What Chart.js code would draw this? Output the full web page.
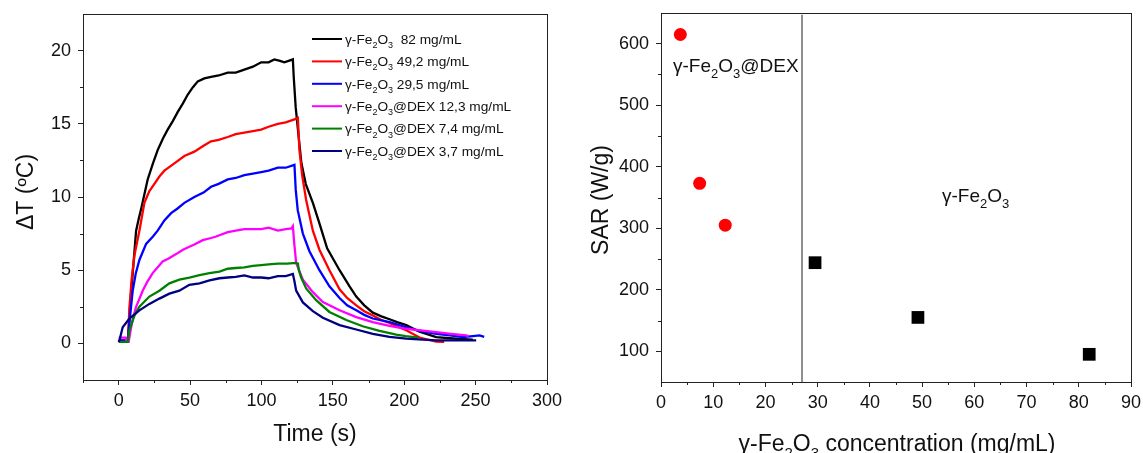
<!DOCTYPE html>
<html>
<head>
<meta charset="utf-8">
<script src="https://cdn.jsdelivr.net/npm/chart.js@4.4.1/dist/chart.umd.min.js"></script>
<style>
    body { margin: 0; background: #fff; }
    #wrap { position: relative; width: 1143px; height: 453px; }
    .panel { position: absolute; top: 0; height: 453px; }
    #left { left: 0; width: 575px; }
    #right { left: 575px; width: 568px; }
</style>
</head>
<body>
<div id="wrap">
    <div class="panel" id="left"><canvas id="heat" width="575" height="453"></canvas></div>
    <div class="panel" id="right"><canvas id="sar" width="568" height="453"></canvas></div>
</div>
<script>
// ---- heating curves: time (s) / deltaT (ºC) ----
var t_82  = [0, 6.5, 8, 10, 12.2, 14, 16, 20.3, 24, 27.3, 31, 34.3, 38, 41.3, 45, 48.4, 52, 55.4, 60, 64.7, 70, 76.4, 82, 88, 94, 99.8, 105, 109, 113, 116, 119, 122, 122.6, 124, 126.6, 128, 131, 136, 140.6, 146, 154.7, 161.7, 166.4, 172, 178, 184, 189.7, 195, 201.4, 210.7, 222.4, 238.8, 248];
var dT_82 = [0.15, 0.15, 2.6, 5.0, 7.7, 8.5, 9.3, 11.2, 12.3, 13.2, 14.0, 14.6, 15.2, 15.8, 16.4, 17.0, 17.5, 17.9, 18.1, 18.2, 18.3, 18.5, 18.5, 18.7, 18.9, 19.2, 19.2, 19.4, 19.3, 19.2, 19.3, 19.4, 18.2, 16.1, 13.6, 12.3, 10.9, 9.6, 8.2, 6.5, 5.0, 3.9, 3.2, 2.6, 2.1, 1.85, 1.65, 1.45, 1.25, 0.8, 0.43, 0.3, 0.25];

var t_49  = [0, 6.5, 7.5, 9, 11, 14.5, 18, 21.5, 25, 28.5, 32, 39, 46, 53, 59.4, 64.7, 70, 76.4, 82, 88, 94, 99.8, 105, 111.5, 117, 123.1, 125.5, 126.6, 128.5, 131.3, 136, 140.6, 147.6, 154.7, 160, 166.4, 172, 178, 184, 189.7, 195, 201.4, 210.7, 222.4, 228];
var dT_49 = [0.2, 0.2, 2.4, 4.3, 6.0, 7.7, 9.6, 10.4, 10.9, 11.4, 11.8, 12.3, 12.8, 13.1, 13.5, 13.8, 13.9, 14.1, 14.3, 14.4, 14.5, 14.6, 14.8, 15.0, 15.1, 15.3, 15.4, 13.2, 11.5, 9.8, 7.7, 6.4, 5.0, 3.7, 3.1, 2.6, 2.2, 1.9, 1.6, 1.4, 1.15, 0.9, 0.4, 0.12, 0.1];

var t_29  = [0, 6.5, 7.5, 9.8, 12, 14.5, 19.2, 24, 27.3, 32, 36.7, 41, 46, 53, 59.4, 64.7, 70, 76.4, 82, 88, 94, 99.8, 105, 111.5, 117, 123.1, 124, 125.4, 129, 133.6, 140.6, 147.6, 154.7, 160, 166.4, 172, 178, 189.7, 201.4, 210.7, 222.4, 232, 241, 248, 252.8, 256];
var dT_29 = [0.2, 0.2, 1.4, 3.6, 4.8, 5.7, 6.8, 7.3, 7.7, 8.4, 8.9, 9.2, 9.6, 10.0, 10.3, 10.7, 10.9, 11.2, 11.3, 11.5, 11.6, 11.7, 11.8, 12.0, 12.0, 12.2, 10.5, 9.1, 7.5, 6.3, 5.0, 3.9, 3.1, 2.6, 2.26, 1.95, 1.7, 1.46, 1.1, 0.85, 0.66, 0.55, 0.43, 0.5, 0.55, 0.45];

var t_12  = [0, 5, 5.5, 7, 8.7, 10.5, 12.2, 16.8, 20, 23.8, 30.8, 35, 40.2, 45, 49.5, 53, 58.9, 64.7, 68.2, 76.4, 82, 88, 94, 99.8, 105, 111.5, 117, 121, 122, 123, 124.3, 129, 136, 143, 154.7, 166.4, 178, 189.7, 201.4, 210, 222.4, 233, 243.4, 245];
var dT_12 = [0.4, 0.4, 0.1, 0.1, 1.1, 1.9, 2.5, 3.6, 4.2, 4.8, 5.6, 5.8, 6.1, 6.4, 6.6, 6.75, 7.05, 7.2, 7.3, 7.6, 7.7, 7.8, 7.8, 7.8, 7.9, 7.7, 7.8, 7.85, 8.0, 6.8, 5.5, 4.35, 3.5, 2.83, 2.26, 1.8, 1.46, 1.2, 1.0, 0.9, 0.77, 0.65, 0.55, 0.5];

var t_7   = [0, 6.3, 7.5, 11, 14.5, 21.5, 28.5, 35.5, 42.5, 49.5, 56.6, 63.6, 70.6, 76.4, 82, 88, 94, 99.8, 105, 111.5, 118, 124.3, 125.5, 126.2, 127.8, 131.3, 138.3, 147.6, 159.4, 170.9, 182.7, 194.4, 201, 210];
var dT_7  = [0.1, 0.1, 0.9, 1.9, 2.5, 3.2, 3.6, 4.1, 4.36, 4.5, 4.66, 4.8, 4.9, 5.1, 5.15, 5.2, 5.3, 5.35, 5.4, 5.45, 5.45, 5.5, 5.45, 5.0, 4.5, 3.75, 2.95, 2.15, 1.6, 1.17, 0.85, 0.6, 0.5, 0.4];

var t_3   = [0, 0.5, 2.8, 7.5, 14.5, 21.5, 28.5, 35.5, 42.5, 49.5, 56.6, 63.6, 70.6, 76.4, 82, 88, 94, 99.8, 105, 111.5, 117, 122, 123, 124.3, 129, 136, 143, 154.7, 166.4, 178, 189.7, 201.4, 210, 222.4, 236, 250.4];
var dT_3  = [0.1, 0.2, 1.1, 1.7, 2.26, 2.7, 3.06, 3.4, 3.6, 4.0, 4.1, 4.3, 4.45, 4.5, 4.55, 4.65, 4.5, 4.5, 4.45, 4.6, 4.6, 4.75, 4.3, 3.6, 2.8, 2.2, 1.75, 1.25, 0.95, 0.65, 0.45, 0.32, 0.28, 0.2, 0.2, 0.2];

// '_' = next char is subscript
var heat_labels = [
    'γ-Fe_2O_3  82 mg/mL',
    'γ-Fe_2O_3 49,2 mg/mL',
    'γ-Fe_2O_3 29,5 mg/mL',
    'γ-Fe_2O_3@DEX 12,3 mg/mL',
    'γ-Fe_2O_3@DEX 7,4 mg/mL',
    'γ-Fe_2O_3@DEX 3,7 mg/mL'
];
var heat_colors = ['#000000', '#ff0000', '#0000ff', '#ff00ff', '#008000', '#000080'];
var heat_x_ticks = [0, 50, 100, 150, 200, 250, 300];
var heat_x_minor = [-25, 25, 75, 125, 175, 225, 275];
var heat_y_ticks = [0, 5, 10, 15, 20];
var heat_y_minor = [2.5, 7.5, 12.5, 17.5];

// ---- SAR vs concentration ----
var conc_dex  = [3.7, 7.4, 12.3];
var sar_dex   = [615, 373, 305];
var conc_bare = [29.5, 49.2, 82];
var sar_bare  = [244, 155, 95];
var divider_x = [27, 27];
var divider_y = [50, 647];
var sar_x_ticks = [0, 10, 20, 30, 40, 50, 60, 70, 80, 90];
var sar_x_minor = [5, 15, 25, 35, 45, 55, 65, 75, 85];
var sar_y_ticks = [100, 200, 300, 400, 500, 600];
var sar_y_minor = [150, 250, 350, 450, 550];

var FONT = '"Liberation Sans", Arial, sans-serif';

function pts(xs, ys) {
    return xs.map(function(x, i){ return {x: x, y: ys[i]}; });
}

function drawSubText(ctx, str, x, y, size, align) {
    var parts = [];
    for (var i = 0; i < str.length; i++) {
        if (str[i] == '_') {
            parts.push({t: str[i + 1], sub: true});
            i++;
        } else if (parts.length && !parts[parts.length - 1].sub) {
            parts[parts.length - 1].t += str[i];
        } else {
            parts.push({t: str[i], sub: false});
        }
    }
    var subSize = Math.round(size * 0.66);
    var w = 0;
    parts.forEach(function(p){
        ctx.font = (p.sub ? subSize : size) + 'px ' + FONT;
        p.w = ctx.measureText(p.t).width;
        w += p.w;
    });
    var cx = (align == 'center') ? x - w / 2 : x;
    ctx.textAlign = 'left';
    ctx.textBaseline = 'alphabetic';
    parts.forEach(function(p){
        ctx.font = (p.sub ? subSize : size) + 'px ' + FONT;
        ctx.fillText(p.t, cx, p.sub ? y + size * 0.3 : y);
        cx += p.w;
    });
}

function drawRotated(ctx, text, x, y, size) {
    ctx.save();
    ctx.translate(x, y);
    ctx.rotate(-Math.PI / 2);
    ctx.font = size + 'px ' + FONT;
    ctx.textAlign = 'center';
    ctx.textBaseline = 'middle';
    ctx.fillText(text, 0, 0);
    ctx.restore();
}

// box round the plot area + short minor ticks
function frameAndMinor(chart, xMinor, yMinor) {
    var ctx = chart.ctx, a = chart.chartArea;
    var sx = chart.scales.x, sy = chart.scales.y;
    ctx.save();
    ctx.strokeStyle = '#222';
    ctx.lineWidth = 1;
    ctx.strokeRect(a.left + 0.5, a.top + 0.5, a.right - a.left, a.bottom - a.top);
    ctx.beginPath();
    xMinor.forEach(function(v){
        var px = Math.round(sx.getPixelForValue(v)) + 0.5;
        ctx.moveTo(px, a.bottom);
        ctx.lineTo(px, a.bottom + 3);
    });
    yMinor.forEach(function(v){
        var py = Math.round(sy.getPixelForValue(v)) + 0.5;
        ctx.moveTo(a.left, py);
        ctx.lineTo(a.left - 3, py);
    });
    ctx.stroke();
    ctx.restore();
}

function axisOpts(min, max, ticks, fitKey, fitVal) {
    return {
        type: 'linear',
        min: min,
        max: max,
        afterBuildTicks: function(s){ s.ticks = ticks.map(function(v){ return {value: v}; }); },
        afterFit: function(s){
            s[fitKey] = fitVal;
            // labels must not push the plot area in
            s.paddingTop = 0; s.paddingBottom = 0;
            s.paddingLeft = 0; s.paddingRight = 0;
        },
        ticks: {
            autoSkip: false,
            maxRotation: 0,
            padding: fitKey == 'width' ? 7 : 5,
            color: '#111',
            font: {family: FONT, size: 18}
        },
        grid: {drawOnChartArea: false, tickLength: 5, color: '#222'},
        border: {color: '#222'}
    };
}

// ---------------- left: heating curves ----------------
var heatSeries = [[t_82, dT_82], [t_49, dT_49], [t_29, dT_29], [t_12, dT_12], [t_7, dT_7], [t_3, dT_3]];

new Chart(document.getElementById('heat'), {
    type: 'scatter',
    data: {
        datasets: heatSeries.map(function(s, i){
            return {
                label: heat_labels[i],
                data: pts(s[0], s[1]),
                showLine: true,
                borderColor: heat_colors[i],
                backgroundColor: heat_colors[i],
                borderWidth: 2.3,
                pointRadius: 0,
                tension: 0,
                order: 6 - i
            };
        })
    },
    options: {
        responsive: false,
        animation: false,
        events: [],
        layout: {padding: {left: 0, top: 14, right: 28, bottom: 0}},
        plugins: {legend: {display: false}, tooltip: {enabled: false}},
        scales: {
            x: axisOpts(-25, 300, heat_x_ticks, 'height', 73),
            y: axisOpts(-2.5, 22.5, heat_y_ticks, 'width', 83)
        }
    },
    plugins: [{
        id: 'heatDecor',
        afterDraw: function(chart){
            var ctx = chart.ctx;
            frameAndMinor(chart, heat_x_minor, heat_y_minor);
            ctx.save();
            ctx.fillStyle = '#111';
            // legend
            heat_labels.forEach(function(lab, i){
                var y = 39 + i * 22.4;
                ctx.strokeStyle = heat_colors[i];
                ctx.lineWidth = 2;
                ctx.beginPath();
                ctx.moveTo(312, y);
                ctx.lineTo(342, y);
                ctx.stroke();
                drawSubText(ctx, lab, 345, y + 4.8, 13.7, 'left');
            });
            // axis titles
            drawSubText(ctx, 'Time (s)', 315, 441, 23, 'center');
            drawRotated(ctx, 'ΔT (ºC)', 27, 192, 23);
            ctx.restore();
        }
    }]
});

// ---------------- right: SAR ----------------
new Chart(document.getElementById('sar'), {
    type: 'scatter',
    data: {
        datasets: [
            {
                label: 'γ-Fe2O3@DEX',
                data: pts(conc_dex, sar_dex),
                pointStyle: 'circle',
                pointRadius: 6.5,
                backgroundColor: '#ff0000',
                borderColor: '#ff0000',
                borderWidth: 0
            },
            {
                label: 'γ-Fe2O3',
                data: pts(conc_bare, sar_bare),
                pointStyle: 'rect',
                pointRadius: 9,
                backgroundColor: '#000000',
                borderColor: '#000000',
                borderWidth: 0
            },
            {
                label: 'divider',
                data: pts(divider_x, divider_y),
                showLine: true,
                borderColor: '#444',
                borderWidth: 1.2,
                pointRadius: 0
            }
        ]
    },
    options: {
        responsive: false,
        animation: false,
        events: [],
        layout: {padding: {left: 0, top: 13, right: 12, bottom: 0}},
        plugins: {legend: {display: false}, tooltip: {enabled: false}},
        scales: {
            x: axisOpts(0, 90, sar_x_ticks, 'height', 71),
            y: axisOpts(50, 650, sar_y_ticks, 'width', 86)
        }
    },
    plugins: [{
        id: 'sarDecor',
        afterDraw: function(chart){
            var ctx = chart.ctx;
            frameAndMinor(chart, sar_x_minor, sar_y_minor);
            ctx.save();
            ctx.fillStyle = '#111';
            drawSubText(ctx, 'γ-Fe_2O_3@DEX', 98, 72, 19, 'left');
            drawSubText(ctx, 'γ-Fe_2O_3', 367, 202, 19, 'left');
            drawSubText(ctx, 'γ-Fe_2O_3 concentration (mg/mL)', 322, 451, 23, 'center');
            drawRotated(ctx, 'SAR (W/g)', 27, 200, 23);
            ctx.restore();
        }
    }]
});
</script>
</body>
</html>
